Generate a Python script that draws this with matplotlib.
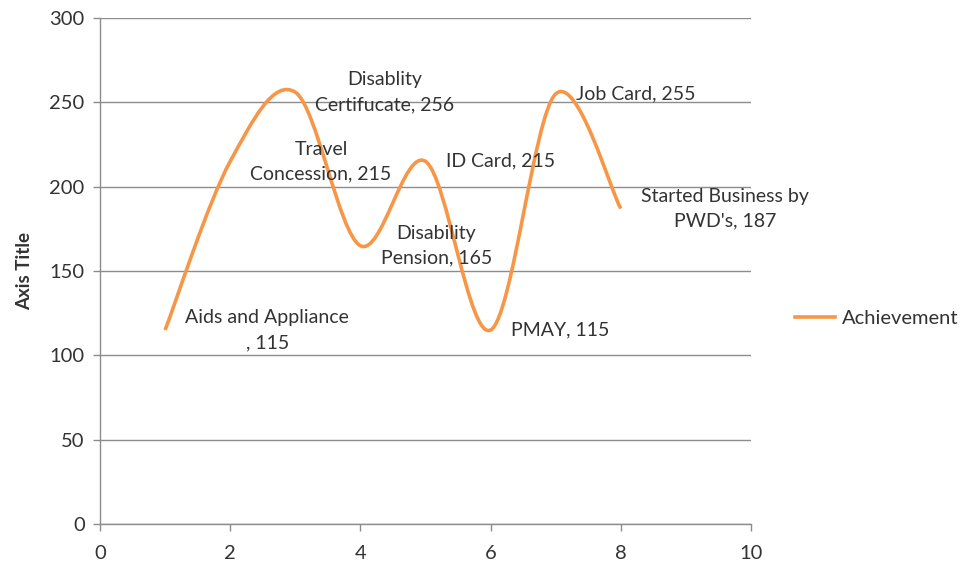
import numpy as np
import matplotlib
matplotlib.use("Agg")
import matplotlib.pyplot as plt
from matplotlib.path import Path
from matplotlib.patches import PathPatch
from matplotlib.lines import Line2D

# ---- data ----
x_vals = [1, 2, 3, 4, 5, 6, 7, 8]
achievement = [115, 215, 256, 165, 215, 115, 255, 187]
point_names = ["Aids and Appliance\n, 115", "Travel\nConcession, 215",
               "Disablity\nCertifucate, 256", "Disability\nPension, 165",
               "ID Card, 215", "PMAY, 115", "Job Card, 255",
               "Started Business by\nPWD's, 187"]
series_name = "Achievement"
x_ticks = [0, 2, 4, 6, 8, 10]
y_ticks = [0, 50, 100, 150, 200, 250, 300]

FONT = "Lato"
TXT = "#333333"
ORANGE = "#F79646"
GRID = "#8c8c8c"

plt.rcParams['font.family'] = [FONT, 'DejaVu Sans']

fig = plt.figure(figsize=(9.68, 5.74), dpi=100)
ax = fig.add_axes([100/968, 50/574, 651/968, 506/574])

# Excel-style smoothed line: Catmull-Rom as cubic Bezier
P = np.column_stack([x_vals, achievement]).astype(float)
n = len(P)
verts = [tuple(P[0])]
codes = [Path.MOVETO]
for i in range(n - 1):
    p0 = P[i - 1] if i > 0 else P[i]
    p1 = P[i]
    p2 = P[i + 1]
    p3 = P[i + 2] if i + 2 < n else P[i + 1]
    c1 = p1 + (p2 - p0) / 6.0
    c2 = p2 - (p3 - p1) / 6.0
    verts += [tuple(c1), tuple(c2), tuple(p2)]
    codes += [Path.CURVE4] * 3
patch = PathPatch(Path(verts, codes), facecolor='none', edgecolor=ORANGE,
                  lw=2.6, capstyle='butt', zorder=3)
ax.add_patch(patch)

ax.set_xlim(0, 10)
ax.set_ylim(0, 300)
ax.set_xticks(x_ticks)
ax.set_yticks(y_ticks)
ax.grid(axis='y', color=GRID, lw=1.0)
ax.set_axisbelow(True)
for s in ['top', 'right']:
    ax.spines[s].set_visible(False)
for s in ['left', 'bottom']:
    ax.spines[s].set_color(GRID)
    ax.spines[s].set_linewidth(1.0)
ax.tick_params(axis='both', colors=GRID, length=5, width=1.0,
               labelcolor=TXT, labelsize=14.5)
ax.tick_params(axis='x', pad=10)
ax.tick_params(axis='y', pad=6)

ax.set_ylabel("Axis Title", fontsize=13.5, fontweight='bold', color=TXT, labelpad=12)

for xv, yv, name in zip(x_vals, achievement, point_names):
    ax.annotate(name, (xv, yv), xytext=(14.5, 0), textcoords='offset points',
                ha='left', va='center', multialignment='center',
                fontsize=14, color=TXT, linespacing=1.55, zorder=4)

handle = Line2D([], [], color=ORANGE, lw=2.6)
fig.legend([handle], [series_name], loc='center left',
           bbox_to_anchor=(777/968, 1 - 318/574), frameon=False,
           fontsize=14.5, labelcolor=TXT, handlelength=2.0, handletextpad=0.3)

fig.savefig("out.png", dpi=100)
